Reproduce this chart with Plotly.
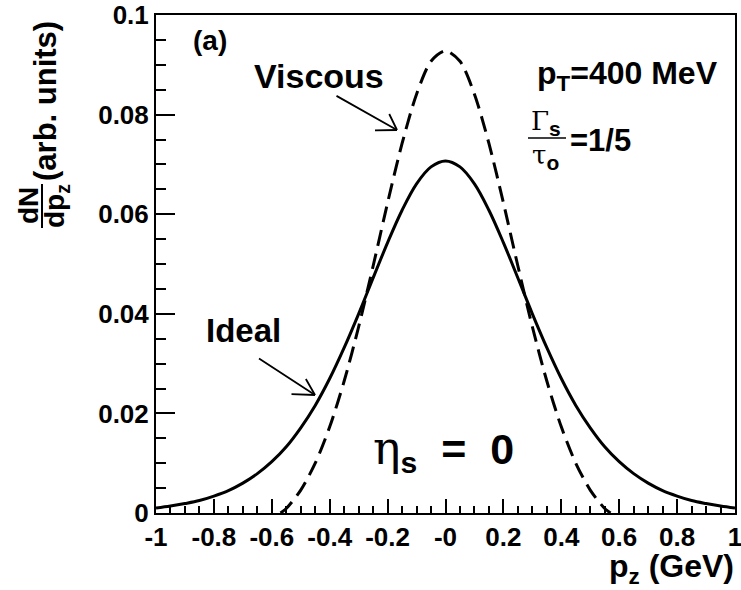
import plotly.graph_objects as go

# ---- data ----
pz_ideal = [-1.0, -0.95, -0.9, -0.85, -0.8, -0.75, -0.7, -0.65, -0.6, -0.55, -0.5,
            -0.45, -0.4, -0.35, -0.3, -0.25, -0.2, -0.15, -0.1, -0.05, 0.0,
            0.05, 0.1, 0.15, 0.2, 0.25, 0.3, 0.35, 0.4, 0.45, 0.5,
            0.55, 0.6, 0.65, 0.7, 0.75, 0.8, 0.85, 0.9, 0.95, 1.0]
dn_ideal = [0.0010, 0.0014, 0.0019, 0.0025, 0.0034, 0.0045, 0.0060, 0.0079, 0.0103, 0.0133, 0.0171,
            0.0216, 0.0270, 0.0332, 0.0400, 0.0472, 0.0543, 0.0608, 0.0661, 0.0695, 0.0707,
            0.0695, 0.0661, 0.0608, 0.0543, 0.0472, 0.0400, 0.0332, 0.0270, 0.0216, 0.0171,
            0.0133, 0.0103, 0.0079, 0.0060, 0.0045, 0.0034, 0.0025, 0.0019, 0.0014, 0.0010]

pz_visc = [-0.57, -0.55, -0.5, -0.45, -0.4, -0.35, -0.3, -0.25, -0.2, -0.15, -0.1, -0.05, 0.0,
           0.05, 0.1, 0.15, 0.2, 0.25, 0.3, 0.35, 0.4, 0.45, 0.5, 0.55, 0.57]
dn_visc = [0.0, 0.0009, 0.0046, 0.0100, 0.0173, 0.0265, 0.0374, 0.0496, 0.0623, 0.0742, 0.0841, 0.0907, 0.0928,
           0.0907, 0.0841, 0.0742, 0.0623, 0.0496, 0.0374, 0.0265, 0.0173, 0.0100, 0.0046, 0.0009, 0.0]

x_tickvals = [-1, -0.8, -0.6, -0.4, -0.2, 0, 0.2, 0.4, 0.6, 0.8, 1]
x_ticktext = ["-1", "-0.8", "-0.6", "-0.4", "-0.2", "-0", "0.2", "0.4", "0.6", "0.8", "1"]
y_tickvals = [0, 0.02, 0.04, 0.06, 0.08, 0.1]
y_ticktext = ["0", "0.02", "0.04", "0.06", "0.08", "0.1"]

SANS = "Liberation Sans, Arial, Helvetica, sans-serif"

W, H = 741, 590
L, R, T, B = 156, 6, 15, 77
PW, PH = W - L - R, H - T - B


def px(xp):
    return (xp - L) / PW


def py(yp):
    return (H - B - yp) / PH


fig = go.Figure()
fig.add_trace(go.Scatter(x=pz_ideal, y=dn_ideal, mode="lines",
                         line=dict(color="black", width=3, shape="spline", smoothing=1.0),
                         name="Ideal", hoverinfo="skip"))
fig.add_trace(go.Scatter(x=pz_visc, y=dn_visc, mode="lines",
                         line=dict(color="black", width=3, dash="16px,8px", shape="spline", smoothing=0.8),
                         name="Viscous", hoverinfo="skip"))

axis_common = dict(showgrid=False, zeroline=False, showline=True, linecolor="black",
                   linewidth=2, mirror=True, ticks="inside", tickcolor="black", tickwidth=1.5,
                   automargin=False, ticklabeloverflow="allow",
                   tickfont=dict(family=SANS, size=26, color="black", weight="bold"))

fig.update_xaxes(range=[-1, 1], tickvals=x_tickvals, ticktext=x_ticktext, ticklen=14,
                 minor=dict(dtick=0.05, ticklen=7, ticks="inside", tickcolor="black", tickwidth=1.5),
                 **axis_common)
fig.update_yaxes(range=[0, 0.1], tickvals=y_tickvals, ticktext=y_ticktext, ticklen=19,
                 minor=dict(dtick=0.005, ticklen=10, ticks="inside", tickcolor="black", tickwidth=1.5),
                 **axis_common)

ann = []


def txt(text, xp, yp, size, angle=0, xanchor="center"):
    ann.append(dict(text=text, x=px(xp), y=py(yp), xref="paper", yref="paper",
                    showarrow=False, xanchor=xanchor, yanchor="middle", textangle=angle,
                    font=dict(family=SANS, size=size, color="black")))


SERIF_SPAN = '<span style="font-family:DejaVu Serif;font-weight:normal;font-size:%dpx">%s</span>'

txt("<b>(a)</b>", 210, 41, 28)
txt("<b>Viscous</b>", 319, 76, 34)
txt("<b>Ideal</b>", 243, 330, 33)
txt("<b>p<sub>T</sub>=400 MeV</b>", 627, 76, 32)
txt("<b>" + SERIF_SPAN % (26, "Γ") + "<sub>s</sub></b>", 546, 123, 30)
txt("<b>" + SERIF_SPAN % (26, "τ") + "<sub>o</sub></b>", 545, 157, 30)
txt("<b>=1/5</b>", 600, 140, 31)
txt("<b>" + SERIF_SPAN % (46, "η") + "<sub>s</sub>&nbsp;&nbsp;=&nbsp;&nbsp;0</b>", 443, 450, 43)
txt("<b>p<sub>z</sub> (GeV)</b>", 736, 568, 32, xanchor="right")
# y title (rotated fraction)
txt("<b>dN</b>", 28, 206, 28, angle=-90)
txt("<b>dp<sub>z</sub></b>", 56, 206, 28, angle=-90)
txt("<b>(arb. units)</b>", 45, 101, 31, angle=-90)


def arrow(tip, tail):
    ann.append(dict(text="", x=px(tip[0]), y=py(tip[1]), xref="paper", yref="paper",
                    ax=tail[0] - tip[0], ay=tail[1] - tip[1], axref="pixel", ayref="pixel",
                    showarrow=True, arrowhead=0, arrowwidth=1.8, arrowcolor="black",
                    standoff=0, startstandoff=0))


# Viscous arrow
arrow((397, 130), (335, 95))
arrow((397, 130), (388.5, 112.5))
arrow((397, 130), (373.5, 130.5))
# Ideal arrow
arrow((315, 395), (257.5, 357.5))
arrow((315, 395), (305, 377.5))
arrow((315, 395), (290, 394))

shapes = [
    dict(type="line", xref="paper", yref="paper", x0=px(42), x1=px(42), y0=py(184), y1=py(228),
         line=dict(color="black", width=2)),
    dict(type="line", xref="paper", yref="paper", x0=px(528), x1=px(566), y0=py(138), y1=py(138),
         line=dict(color="black", width=1.5)),
]

fig.update_layout(width=W, height=H, autosize=False,
                  margin=dict(l=L, r=R, t=T, b=B, pad=0, autoexpand=False),
                  paper_bgcolor="white", plot_bgcolor="white",
                  showlegend=False, annotations=ann, shapes=shapes)

fig.write_html("out.html")
